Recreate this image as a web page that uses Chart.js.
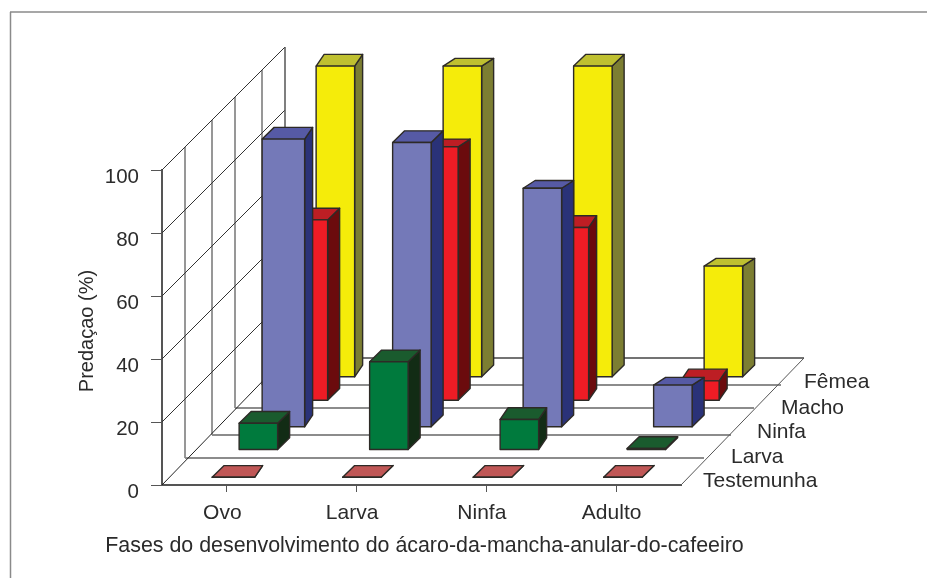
<!DOCTYPE html>
<html>
<head>
<meta charset="utf-8">
<script src="https://cdn.jsdelivr.net/npm/chart.js@4/dist/chart.umd.js"></script>
<style>
  body { margin: 0; background: #fff; }
  canvas { display: block; }
</style>
</head>
<body>
<canvas id="predacao" width="927" height="578"></canvas>
<script>
// data
var fases = ["Ovo", "Larva", "Ninfa", "Adulto"];
var testemunha = [0, 0, 0, 0];
var larva = [8.5, 28, 9.7, 0.5];
var ninfa = [91.5, 90.4, 75.9, 13.4];
var macho = [57.4, 80.6, 55, 6.3];
var femea = [98.8, 98.8, 98.8, 35.3];
var yTicks = [0, 20, 40, 60, 80, 100];

// face colours, one set per row: front, top, side
var faces = {
    testemunha: ["#c05756", "#c05756", "#8c3a3a"],
    larva: ["#007a3d", "#1a5b2e", "#122c15"],
    ninfa: ["#7479b8", "#565aa5", "#2a3278"],
    macho: ["#ee1c25", "#bd1e24", "#6b0b0d"],
    femea: ["#f5ec0a", "#bfc030", "#7c7e32"]
};

// floor perspective, in px
var gridShiftX = [0, 23, 50, 73, 100, 123];
var gridRise = [0, 27, 50, 77, 100, 127];
var wallRise = 123;
var rowShiftX = [4.5, 31.5, 54.5, 81.5, 108.5];
var rowRise = [7.7, 35, 57.7, 84.3, 107.7];
var columnDrift = 0.75;
var boxDepth = 11.7;

// the boxes do not sit on a perfectly even grid: per row, the columns that
// get a thinner side, a wider front, a flatter top, or a small nudge left
var narrowSide = [[0], [2], [0], [2, 3], [0]];
var wideFront = [[0], [], [0], [], []];
var flatTop = [[], [], [2, 3], [1], [1, 3]];
var nudgeLeft = [[], [3], [], [], [1, 2, 3]];

var rowLabelX = [703, 731, 757, 781, 804];
var rowLabelY = [481, 457, 432, 408, 382];

function line(ctx, x1, y1, x2, y2, color, width) {
    ctx.strokeStyle = color;
    ctx.lineWidth = width;
    ctx.beginPath();
    ctx.moveTo(x1, y1);
    ctx.lineTo(x2, y2);
    ctx.stroke();
}

function poly(ctx, pts, fill) {
    ctx.fillStyle = fill;
    ctx.beginPath();
    ctx.moveTo(pts[0][0], pts[0][1]);
    for (var i = 1; i < pts.length; i++) ctx.lineTo(pts[i][0], pts[i][1]);
    ctx.closePath();
    ctx.fill();
    ctx.stroke();
}

function drawBox(ctx, bar, row, col, colors) {
    var width = bar.width + (wideFront[row].indexOf(col) >= 0 ? 4 : 0);
    var left = bar.x - bar.width / 2 + rowShiftX[row] + columnDrift * col;
    if (nudgeLeft[row].indexOf(col) >= 0) left -= 3.5;
    var right = left + width;
    var top = bar.y - rowRise[row];
    var bottom = bar.base - rowRise[row];
    var dx = narrowSide[row].indexOf(col) >= 0 ? 8 : 12;
    var dxLeft = width > bar.width ? 12 : dx;
    var dy = flatTop[row].indexOf(col) >= 0 ? 7.7 : boxDepth;

    ctx.strokeStyle = "#2d2a26";
    ctx.lineWidth = 1.4;
    ctx.lineJoin = "round";
    poly(ctx, [[right, top], [right + dx, top - dy], [right + dx, bottom - boxDepth], [right, bottom]], colors[2]);
    poly(ctx, [[left, top], [left + dxLeft, top - dy], [right + dx, top - dy], [right, top]], colors[1]);
    poly(ctx, [[left, top], [right, top], [right, bottom], [left, bottom]], colors[0]);
}

var box3d = {
    id: "box3d",
    beforeDraw: function (chart) {
        // outer frame, open on the right and at the bottom
        var ctx = chart.ctx;
        line(ctx, 10.5, 578, 10.5, 12, "#8a8a8a", 1.5);
        line(ctx, 10, 12, 927, 12, "#8a8a8a", 1.5);
    },
    beforeDatasetsDraw: function (chart) {
        var ctx = chart.ctx;
        var x = chart.scales.x;
        var y = chart.scales.y;
        var floorY = y.getPixelForValue(0);
        var topY = y.getPixelForValue(100);
        var backX = x.left + gridShiftX[5];

        // wall uprights and floor lines
        for (var i = 1; i < 5; i++) {
            line(ctx, x.left + gridShiftX[i], topY - gridShiftX[i], x.left + gridShiftX[i], floorY - gridRise[i], "#8c8c8c", 1.8);
            line(ctx, x.left + gridShiftX[i], floorY - gridRise[i], x.right + gridShiftX[i], floorY - gridRise[i], "#8c8c8c", 1.8);
        }
        // wall lines going back from each tick
        yTicks.forEach(function (t) {
            if (t === 0) return;
            var py = y.getPixelForValue(t);
            line(ctx, x.left, py, backX, py - wallRise, "#333", 1);
        });
        line(ctx, backX, topY - wallRise, backX, floorY - gridRise[5], "#555", 1.5);
        line(ctx, backX, floorY - gridRise[5], x.right + gridShiftX[5], floorY - gridRise[5], "#444", 1.5);
        line(ctx, x.left, floorY, backX, floorY - gridRise[5], "#222", 1);
        line(ctx, x.right, floorY, x.right + gridShiftX[5], floorY - gridRise[5], "#555", 1);
    },
    beforeDatasetDraw: function (chart, args) {
        // the library lays the bars out, each one is painted here as a box
        var meta = chart.getDatasetMeta(args.index);
        var colors = chart.data.datasets[args.index].faceColors;
        meta.data.forEach(function (bar, col) {
            drawBox(chart.ctx, bar, args.index, col, colors);
        });
        return false;
    },
    afterDatasetsDraw: function (chart) {
        var ctx = chart.ctx;
        ctx.fillStyle = "#2b2b2b";
        ctx.font = "21px 'Liberation Sans'";
        ctx.textAlign = "left";
        ctx.textBaseline = "middle";
        // row names along the right edge of the floor
        chart.data.datasets.forEach(function (ds, i) {
            ctx.fillText(ds.label, rowLabelX[i], rowLabelY[i]);
        });
        // axis titles: the x one is wider than the plot, so it is not left to the scale
        ctx.textAlign = "center";
        ctx.font = "21.4px 'Liberation Sans'";
        ctx.fillText("Fases do desenvolvimento do ácaro-da-mancha-anular-do-cafeeiro", 424.5, 546);
        ctx.font = "20px 'Liberation Sans'";
        ctx.save();
        ctx.translate(87, 331);
        ctx.rotate(-Math.PI / 2);
        ctx.fillText("Predaçao (%)", 0, 0);
        ctx.restore();
    }
};

function initializeChart() {
    new Chart(document.getElementById("predacao"), {
        type: "bar",
        data: {
            labels: fases,
            datasets: [
                { label: "Testemunha", data: testemunha, faceColors: faces.testemunha },
                { label: "Larva", data: larva, faceColors: faces.larva },
                { label: "Ninfa", data: ninfa, faceColors: faces.ninfa },
                { label: "Macho", data: macho, faceColors: faces.macho },
                { label: "Fêmea", data: femea, faceColors: faces.femea }
            ]
        },
        options: {
            responsive: false,
            animation: false,
            grouped: false,
            barThickness: 38.5,
            layout: { padding: { top: 170, right: 246, left: 0, bottom: 0 } },
            plugins: {
                legend: { display: false },
                tooltip: { enabled: false }
            },
            scales: {
                x: {
                    afterFit: function (scale) { scale.height = 93; },
                    grid: { offset: false, drawOnChartArea: false, tickLength: 7, color: "#555", tickWidth: 1 },
                    border: { color: "#555", width: 2 },
                    ticks: {
                        color: "#2b2b2b",
                        font: { family: "'Liberation Sans'", size: 21 },
                        padding: 9,
                        labelOffset: -4.5,
                        maxRotation: 0
                    }
                },
                y: {
                    min: 0,
                    max: 100,
                    afterFit: function (scale) { scale.width = 162; },
                    afterBuildTicks: function (scale) {
                        scale.ticks = yTicks.map(function (v) { return { value: v }; });
                    },
                    grid: { drawOnChartArea: false, tickLength: 11, color: "#555", tickWidth: 1 },
                    border: { color: "#555", width: 2 },
                    ticks: {
                        color: "#2b2b2b",
                        font: { family: "'Liberation Sans'", size: 20.5 },
                        padding: 12,
                        labelOffset: 7
                    }
                }
            }
        },
        plugins: [box3d]
    });
}

initializeChart();
</script>
</body>
</html>
